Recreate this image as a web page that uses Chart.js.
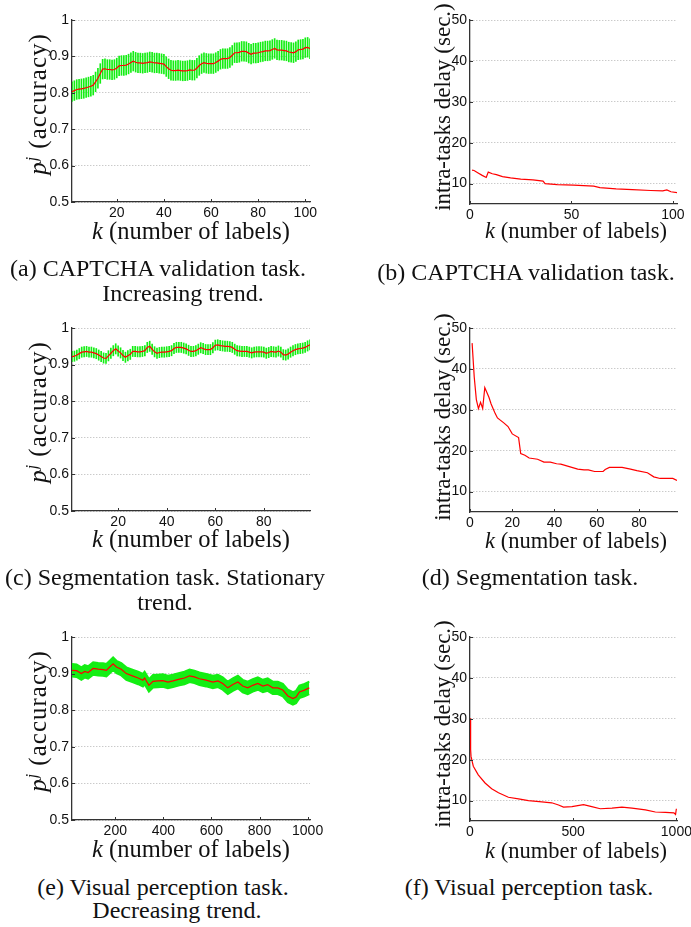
<!DOCTYPE html>
<html>
<head>
<meta charset="utf-8">
<script src="https://cdn.jsdelivr.net/npm/chart.js@4/dist/chart.umd.min.js"></script>
<style>
  html, body { margin: 0; padding: 0; background: #fff; width: 691px; height: 927px; overflow: hidden; position: relative; }
  canvas { position: absolute; }
  .lab { position: absolute; font-family: "Liberation Serif", "Times New Roman", serif; color: #111;
         white-space: nowrap; line-height: 1; transform: translate(-50%, -50%); }
  .ylab { transform: translate(-50%, -50%) rotate(-90deg); }
  .acc { font-size: 25px; letter-spacing: 1px; }
  .cap { font-size: 24px; }
</style>
</head>
<body>
<canvas id="cA"></canvas>
<canvas id="cB"></canvas>
<canvas id="cC"></canvas>
<canvas id="cD"></canvas>
<canvas id="cE"></canvas>
<canvas id="cF"></canvas>

<!-- axis titles -->
<div class="lab ylab acc" style="left:37px;top:104px"><i>p</i><sup style="font-size:16px"><i>j</i></sup> (accuracy)</div>
<div class="lab ylab acc" style="left:37px;top:412px"><i>p</i><sup style="font-size:16px"><i>j</i></sup> (accuracy)</div>
<div class="lab ylab acc" style="left:37px;top:721px"><i>p</i><sup style="font-size:16px"><i>j</i></sup> (accuracy)</div>
<div class="lab ylab" style="left:442px;top:107px;font-size:23px">intra-tasks delay (sec.)</div>
<div class="lab ylab" style="left:442px;top:417px;font-size:23px">intra-tasks delay (sec.)</div>
<div class="lab ylab" style="left:442px;top:724px;font-size:23px">intra-tasks delay (sec.)</div>

<div class="lab" style="left:191px;top:231px;font-size:24.5px"><i>k</i> (number of labels)</div>
<div class="lab" style="left:576px;top:231px;font-size:22.5px"><i>k</i> (number of labels)</div>
<div class="lab" style="left:191px;top:539px;font-size:24.5px"><i>k</i> (number of labels)</div>
<div class="lab" style="left:576px;top:541px;font-size:22.5px"><i>k</i> (number of labels)</div>
<div class="lab" style="left:191px;top:849px;font-size:24.5px"><i>k</i> (number of labels)</div>
<div class="lab" style="left:576px;top:851px;font-size:22.5px"><i>k</i> (number of labels)</div>

<!-- captions -->
<div class="lab cap" style="left:158px;top:268px">(a) CAPTCHA validation task.</div>
<div class="lab cap" style="left:183px;top:293px">Increasing trend.</div>
<div class="lab cap" style="left:526px;top:272px">(b) CAPTCHA validation task.</div>
<div class="lab cap" style="left:165px;top:577px">(c) Segmentation task. Stationary</div>
<div class="lab cap" style="left:165px;top:602px">trend.</div>
<div class="lab cap" style="left:530px;top:577px">(d) Segmentation task.</div>
<div class="lab cap" style="left:163px;top:887px">(e) Visual perception task.</div>
<div class="lab cap" style="left:177px;top:910px">Decreasing trend.</div>
<div class="lab cap" style="left:529px;top:887px">(f) Visual perception task.</div>

<script>
// tick labels
const accTicksY   = [0.5, 0.6, 0.7, 0.8, 0.9, 1];
const delayTicksY = [10, 20, 30, 40, 50];
const ticksXA = [20, 40, 60, 80, 100];
const ticksXB = [0, 50, 100];
const ticksXC = [20, 40, 60, 80];
const ticksXD = [0, 20, 40, 60, 80];
const ticksXE = [200, 400, 600, 800, 1000];
const ticksXF = [0, 500, 1000];

// (a) CAPTCHA accuracy, k = 1..102
const accA = [
  .803,.806,.809,.810,.811,.812,.814,.816,.818,.821,
  .830,.840,.853,.865,.866,.864,.864,.863,.864,.868,
  .874,.875,.875,.876,.879,.883,.887,.884,.882,.882,
  .881,.882,.883,.885,.884,.882,.882,.881,.880,.879,
  .872,.866,.862,.861,.861,.862,.861,.860,.860,.861,
  .863,.862,.862,.868,.875,.880,.883,.881,.880,.880,
  .880,.883,.887,.892,.894,.894,.894,.897,.903,.910,
  .910,.911,.914,.914,.913,.909,.906,.909,.909,.910,
  .912,.913,.915,.915,.916,.919,.922,.918,.917,.917,
  .916,.915,.912,.911,.910,.913,.918,.919,.920,.924,
  .925,.921
];
const errA = 0.027;

// (b) CAPTCHA delay
const kB     = [1, 2, 4, 6, 8, 9, 11, 13, 16, 20, 25, 31, 36, 37, 43, 51, 61, 64, 72, 80, 89, 95, 97, 99, 102];
const delayB = [13.3, 13.2, 12.6, 12.0, 11.5, 12.8, 12.4, 12.2, 11.7, 11.4, 11.1, 10.9, 10.6, 10.0, 9.75, 9.6, 9.35, 9.0, 8.7, 8.5, 8.3, 8.2, 8.45, 8.0, 7.8];

// (c) Segmentation accuracy, k = 1..99
const accC = [
  .922,.923,.926,.930,.934,.935,.936,.934,.934,.932,
  .930,.926,.922,.918,.917,.924,.931,.938,.943,.937,
  .932,.925,.920,.924,.928,.936,.936,.935,.935,.936,
  .938,.947,.950,.942,.935,.931,.933,.934,.934,.935,
  .936,.938,.944,.947,.947,.947,.945,.943,.939,.936,
  .936,.938,.942,.946,.944,.941,.941,.941,.946,.953,
  .954,.952,.951,.950,.950,.949,.947,.942,.938,.937,
  .936,.936,.936,.934,.932,.934,.935,.935,.935,.934,
  .931,.933,.936,.935,.934,.937,.934,.927,.926,.929,
  .934,.938,.941,.943,.944,.945,.947,.951,.954
];
const errC = 0.014;

// (d) Segmentation delay
const kD     = [1, 2, 3, 4, 5, 6, 7, 8, 9, 10, 11, 12, 13, 16, 18, 20, 23, 24, 26, 28, 32, 35, 38, 41, 43, 47, 51, 54, 56, 59, 63, 64, 66, 72, 76, 79, 84, 87, 90, 95, 96, 98];
const delayD = [46.3, 38.0, 32.5, 30.3, 31.8, 30.3, 35.4, 34.2, 33.0, 31.4, 30.2, 29.0, 28.0, 26.8, 25.9, 24.1, 23.2, 19.3, 18.9, 18.2, 17.9, 17.2, 17.2, 16.8, 16.7, 16.1, 15.5, 15.3, 15.3, 14.9, 14.9, 15.4, 15.9, 15.9, 15.5, 15.1, 14.6, 13.6, 13.2, 13.2, 13.2, 12.7];

// (e) Visual perception accuracy
const kE   = [20, 39, 59, 73, 87, 108, 129, 149, 163, 177, 191, 205, 225, 246, 274, 295, 315, 322, 340, 357, 377, 398, 419, 440, 467, 488, 509, 529, 550, 578, 606, 627, 647, 668, 689, 710, 730, 751, 772, 793, 814, 834, 855, 876, 897, 918, 939, 952, 966, 987, 1007];
const accE = [.909, .908, .900, .906, .903, .914, .912, .911, .909, .918, .927, .918, .912, .900, .893, .888, .882, .888, .868, .879, .880, .881, .877, .880, .885, .888, .894, .891, .886, .882, .877, .880, .873, .861, .870, .877, .866, .861, .868, .873, .866, .870, .861, .861, .855, .839, .832, .836, .850, .855, .861];
const errE = 0.017;

// (f) Visual perception delay
const kF     = [1, 3, 5, 16, 40, 73, 105, 138, 186, 235, 283, 348, 396, 429, 453, 494, 550, 590, 631, 688, 736, 785, 850, 898, 947, 988, 996, 1000];
const delayF = [30.1, 22.5, 20.8, 18.4, 16.3, 14.3, 12.9, 11.9, 10.8, 10.4, 10.0, 9.7, 9.45, 8.9, 8.4, 8.5, 9.0, 8.5, 8.0, 8.15, 8.4, 8.15, 7.7, 7.2, 7.1, 7.0, 6.6, 8.0];

const RED = '#ff0000';
const GREEN = '#14ee14';
const AXIS = '#333';

// small inward tick marks, MATLAB style
const inTicks = {
  id: 'inTicks',
  afterDraw(chart) {
    const { ctx, chartArea: a, scales: { x, y } } = chart;
    ctx.save();
    ctx.strokeStyle = AXIS;
    ctx.lineWidth = 1;
    ctx.beginPath();
    x.ticks.forEach(t => {
      const px = Math.round(x.getPixelForValue(t.value)) + 0.5;
      ctx.moveTo(px, a.bottom); ctx.lineTo(px, a.bottom - 3);
    });
    y.ticks.forEach(t => {
      const py = Math.round(y.getPixelForValue(t.value)) + 0.5;
      ctx.moveTo(a.left, py); ctx.lineTo(a.left + 3, py);
    });
    ctx.stroke();
    ctx.restore();
  },
};

function panel(id, box, area, xr, yr, xTicks, yTicks, datasets, yFmt) {
  const cv = document.getElementById(id);
  cv.width = box.w; cv.height = box.h;
  cv.style.left = box.x + 'px'; cv.style.top = box.y + 'px';
  const tickFont = { family: '"Liberation Sans", Arial, sans-serif', size: 14 };
  return new Chart(cv, {
    type: 'line',
    data: { datasets },
    options: {
      responsive: false,
      animation: false,
      devicePixelRatio: 1,
      layout: { padding: { left: 0, top: area.t - box.y, right: box.x + box.w - area.r, bottom: 0 } },
      plugins: { legend: { display: false }, tooltip: { enabled: false } },
      elements: { point: { radius: 0 } },
      scales: {
        x: {
          type: 'linear', min: xr[0], max: xr[1], offset: false,
          afterBuildTicks: s => { s.ticks = xTicks.map(v => ({ value: v })); },
          afterFit: s => { s.height = box.y + box.h - area.b; },
          grid: { display: false, drawTicks: false },
          border: { display: true, color: AXIS, width: 1.3 },
          ticks: { color: '#111', font: tickFont, padding: 3, maxRotation: 0, callback: v => String(v) },
        },
        y: {
          type: 'linear', min: yr[0], max: yr[1],
          afterBuildTicks: s => { s.ticks = yTicks.map(v => ({ value: v })); },
          afterFit: s => { s.width = area.l - box.x; },
          grid: { display: true, color: '#b4b4b4', lineWidth: 1, drawTicks: false },
          border: { display: true, color: AXIS, width: 1.3, dash: [1, 2] },
          ticks: { color: '#111', font: tickFont, padding: 3, callback: yFmt },
        },
      },
    },
    plugins: [inTicks],
  });
}

const accFmt = v => String(Math.round(v * 10) / 10);
const numFmt = v => String(v);

function redLine(xs, ys) {
  return { type: 'line', data: xs.map((x, i) => ({ x, y: ys[i] })), borderColor: RED,
           borderWidth: 1.2, pointRadius: 0, fill: false, tension: 0, order: 0 };
}
function errBars(xs, ys, e) {
  return { type: 'bar', data: xs.map((x, i) => ({ x, y: [ys[i] - e, ys[i] + e] })),
           backgroundColor: GREEN, borderWidth: 0, barThickness: 1, order: 2 };
}

const kA = accA.map((_, i) => i + 1);
const kC = accC.map((_, i) => i + 1);

panel('cA', { x: 40, y: 8, w: 290, h: 220 }, { l: 72, t: 20, r: 310, b: 202 },
  [1, 102], [0.5, 1], ticksXA, accTicksY,
  [redLine(kA, accA), errBars(kA, accA, errA)], accFmt);

panel('cB', { x: 440, y: 8, w: 260, h: 222 }, { l: 470, t: 20, r: 677, b: 204 },
  [0, 102], [5, 50], ticksXB, delayTicksY,
  [redLine(kB, delayB)], numFmt);

panel('cC', { x: 40, y: 316, w: 290, h: 220 }, { l: 72, t: 328, r: 310, b: 511 },
  [1, 99], [0.5, 1], ticksXC, accTicksY,
  [redLine(kC, accC), errBars(kC, accC, errC)], accFmt);

panel('cD', { x: 440, y: 316, w: 260, h: 222 }, { l: 470, t: 328, r: 677, b: 512 },
  [0, 98], [5, 50], ticksXD, delayTicksY,
  [redLine(kD, delayD)], numFmt);

panel('cE', { x: 40, y: 624, w: 290, h: 220 }, { l: 72, t: 637, r: 310, b: 820 },
  [20, 1010], [0.5, 1], ticksXE, accTicksY,
  [
    redLine(kE, accE),
    { type: 'line', data: kE.map((x, i) => ({ x, y: accE[i] + errE })), borderColor: GREEN,
      borderWidth: 2, pointRadius: 0, fill: false, order: 2 },
    { type: 'line', data: kE.map((x, i) => ({ x, y: accE[i] - errE })), borderColor: GREEN,
      borderWidth: 2, pointRadius: 0, fill: 1, backgroundColor: GREEN, order: 2 },
  ], accFmt);

panel('cF', { x: 440, y: 624, w: 260, h: 222 }, { l: 470, t: 637, r: 677, b: 821 },
  [0, 1003], [5, 50], ticksXF, delayTicksY,
  [redLine(kF, delayF)], numFmt);
</script>
</body>
</html>
